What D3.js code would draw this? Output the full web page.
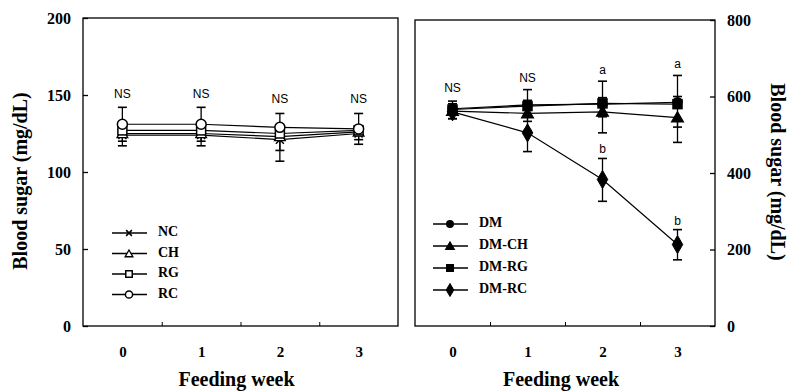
<!DOCTYPE html>
<html>
<head>
<meta charset="utf-8">
<script src="https://cdn.jsdelivr.net/npm/d3@7"></script>
<style>
  body { margin: 0; background: #fff; }
  svg { display: block; }
</style>
</head>
<body>
<div id="chart"></div>
<script>
// data
const weeks = [0, 1, 2, 3];
const weekLabels = ['0', '1', '2', '3'];

// left panel: normal groups (mg/dL)
const ncMean = [124, 124, 121, 125];
const ncUp = [0, 0, 0, 0];
const ncDown = [7, 7, 14, 7];
const chMean = [125, 125, 123, 126];
const chUp = [0, 0, 0, 0];
const chDown = [5, 5, 9, 5];
const rgMean = [127, 127, 125, 127];
const rgUp = [0, 0, 0, 0];
const rgDown = [3, 3, 4, 3];
const rcMean = [131, 131, 129, 128];
const rcUp = [11, 11, 9, 10];
const rcDown = [0, 0, 0, 0];
const leftNotes = ['NS', 'NS', 'NS', 'NS'];
const leftNoteY = [150, 150, 147, 147];
const leftTicks = [0, 50, 100, 150, 200];

// right panel: diabetic groups (mg/dL)
const dmMean = [568, 578, 580, 585];
const dmUp = [20, 40, 60, 70];
const dmDown = [0, 0, 0, 0];
const dmchMean = [562, 556, 560, 545];
const dmchUp = [0, 0, 0, 0];
const dmchDown = [20, 45, 55, 65];
const dmrgMean = [566, 575, 582, 580];
const dmrgUp = [15, 15, 15, 20];
const dmrgDown = [15, 40, 35, 60];
const dmrcMean = [560, 505, 383, 213];
const dmrcUp = [0, 0, 55, 39];
const dmrcDown = [18, 49, 57, 40];
const rightNotes = ['NS', 'NS', 'a', 'a', 'b', 'b'];
const rightNoteX = [0, 1, 2, 3, 2, 3];
const rightNoteY = [619, 645, 666, 684, 461, 272];
const rightTicks = [0, 200, 400, 600, 800];

const W = 788, H = 392;
const serif = '"Liberation Serif", "Times New Roman", serif';
const sans = '"Liberation Sans", Arial, sans-serif';

const svg = d3.select('#chart').append('svg')
    .attr('width', W)
    .attr('height', H);

// marker drawing, k scales the size (legend uses smaller ones)
function drawMarker(g, type, x, y, k = 1) {
    const filled = type.startsWith('f');
    const fill = filled ? '#000' : '#fff';
    if (type.endsWith('circle')) {
        g.append('circle').attr('cx', x).attr('cy', y).attr('r', (filled ? 4.5 : 5) * k)
            .attr('fill', fill).attr('stroke', '#000').attr('stroke-width', 1.5);
    } else if (type.endsWith('square')) {
        const s = (filled ? 9 : 9) * k;
        g.append('rect').attr('x', x - s / 2).attr('y', y - s / 2).attr('width', s).attr('height', s)
            .attr('fill', fill).attr('stroke', '#000').attr('stroke-width', 1.5);
    } else if (type.endsWith('triangle')) {
        g.append('path').attr('d', d3.symbol(d3.symbolTriangle, (filled ? 60 : 50) * k * k)())
            .attr('transform', `translate(${x},${y + 1})`)
            .attr('fill', fill).attr('stroke', '#000').attr('stroke-width', 1.3);
    } else if (type.endsWith('diamond')) {
        g.append('path').attr('d', d3.symbol(d3.symbolDiamond, 95 * k * k)())
            .attr('transform', `translate(${x},${y})`)
            .attr('fill', fill).attr('stroke', '#000').attr('stroke-width', 1);
    } else if (type === 'x') {
        const r = 4 * k;
        g.append('path').attr('d', `M${x - r},${y - r}L${x + r},${y + r}M${x - r},${y + r}L${x + r},${y - r}`)
            .attr('stroke', '#000').attr('stroke-width', 1.5);
    }
}

function drawPanel(p) {
    const x = d3.scaleLinear().domain([-0.5, 3.5]).range([p.left, p.right]);
    const y = d3.scaleLinear().domain([0, p.yMax]).range([p.bottom, p.top]);
    const g = svg.append('g');

    // frame
    g.append('rect')
        .attr('x', p.left).attr('y', p.top)
        .attr('width', p.right - p.left).attr('height', p.bottom - p.top)
        .attr('fill', 'none').attr('stroke', '#000').attr('stroke-width', 1.3);

    // y axis
    const yAxis = (p.axisSide === 'left' ? d3.axisLeft(y) : d3.axisRight(y))
        .tickValues(p.ticks).tickSizeInner(-5).tickSizeOuter(0).tickPadding(12);
    const ya = g.append('g')
        .attr('transform', `translate(${p.axisSide === 'left' ? p.left : p.right},0)`)
        .call(yAxis);
    ya.select('.domain').remove();
    ya.selectAll('line').attr('stroke-width', 1.3);
    ya.selectAll('text').attr('font-family', serif).attr('font-weight', 'bold')
        .attr('font-size', 16).attr('fill', '#000');

    // x axis labels and in-between ticks
    const xa = g.append('g').attr('transform', `translate(0,${p.bottom})`)
        .call(d3.axisBottom(x).tickValues(weeks).tickFormat((d, i) => weekLabels[i])
            .tickSize(0).tickPadding(20));
    xa.select('.domain').remove();
    xa.selectAll('text').attr('font-family', serif).attr('font-weight', 'bold')
        .attr('font-size', 15).attr('fill', '#000');
    const xt = g.append('g').attr('transform', `translate(0,${p.bottom})`)
        .call(d3.axisBottom(x).tickValues([0.5, 1.5, 2.5]).tickFormat('').tickSize(-4).tickSizeOuter(0));
    xt.select('.domain').remove();

    g.append('text')
        .attr('x', (p.left + p.right) / 2 - 4).attr('y', 386)
        .attr('text-anchor', 'middle')
        .attr('font-family', serif).attr('font-weight', 'bold').attr('font-size', 20)
        .text('Feeding week');

    // lines
    const line = d3.line().x((d, i) => x(weeks[i])).y(d => y(d));
    p.series.forEach(s => {
        g.append('path').datum(s.mean)
            .attr('d', line).attr('fill', 'none')
            .attr('stroke', '#000').attr('stroke-width', 1.2);
    });

    // error bars
    p.series.forEach(s => {
        s.mean.forEach((m, i) => {
            const cx = x(weeks[i]);
            [[s.up[i], 1], [s.down[i], -1]].forEach(([e, dir]) => {
                if (!e) return;
                const ye = y(m + dir * e);
                g.append('line').attr('x1', cx).attr('x2', cx).attr('y1', y(m)).attr('y2', ye)
                    .attr('stroke', '#000').attr('stroke-width', 1.3);
                g.append('line').attr('x1', cx - 4.5).attr('x2', cx + 4.5).attr('y1', ye).attr('y2', ye)
                    .attr('stroke', '#000').attr('stroke-width', 1.6);
            });
        });
    });

    // markers
    p.series.forEach(s => {
        s.mean.forEach((m, i) => drawMarker(g, s.marker, x(weeks[i]), y(m)));
    });

    // significance notes
    p.notes.forEach((t, i) => {
        g.append('text')
            .attr('x', x(p.noteX[i])).attr('y', y(p.noteY[i]))
            .attr('text-anchor', 'middle').attr('dominant-baseline', 'middle')
            .attr('font-family', sans).attr('font-size', 12).attr('fill', '#000')
            .text(t);
    });

    // legend
    const lg = g.append('g');
    p.series.forEach((s, i) => {
        const ly = p.legendY + i * p.legendGap;
        lg.append('line').attr('x1', p.legendX).attr('x2', p.legendX + 35)
            .attr('y1', ly).attr('y2', ly).attr('stroke', '#000').attr('stroke-width', 1.5);
        drawMarker(lg, s.marker, p.legendX + 17, ly, 0.72);
        lg.append('text').attr('x', p.legendX + 46).attr('y', ly)
            .attr('dominant-baseline', 'middle')
            .attr('font-family', serif).attr('font-weight', 'bold').attr('font-size', 14)
            .text(s.name);
    });
}

drawPanel({
    left: 83, right: 398, top: 18, bottom: 326, yMax: 200,
    ticks: leftTicks, axisSide: 'left',
    series: [
        { name: 'NC', mean: ncMean, up: ncUp, down: ncDown, marker: 'x' },
        { name: 'CH', mean: chMean, up: chUp, down: chDown, marker: 'triangle' },
        { name: 'RG', mean: rgMean, up: rgUp, down: rgDown, marker: 'square' },
        { name: 'RC', mean: rcMean, up: rcUp, down: rcDown, marker: 'circle' }
    ],
    notes: leftNotes, noteX: weeks, noteY: leftNoteY,
    legendX: 112, legendY: 233, legendGap: 20.5
});

drawPanel({
    left: 415, right: 715, top: 20, bottom: 326, yMax: 800,
    ticks: rightTicks, axisSide: 'right',
    series: [
        { name: 'DM', mean: dmMean, up: dmUp, down: dmDown, marker: 'fcircle' },
        { name: 'DM-CH', mean: dmchMean, up: dmchUp, down: dmchDown, marker: 'ftriangle' },
        { name: 'DM-RG', mean: dmrgMean, up: dmrgUp, down: dmrgDown, marker: 'fsquare' },
        { name: 'DM-RC', mean: dmrcMean, up: dmrcUp, down: dmrcDown, marker: 'fdiamond' }
    ],
    notes: rightNotes, noteX: rightNoteX, noteY: rightNoteY,
    legendX: 433, legendY: 224, legendGap: 22
});

// y axis titles
svg.append('text')
    .attr('transform', 'translate(27,181) rotate(-90)')
    .attr('text-anchor', 'middle')
    .attr('font-family', serif).attr('font-weight', 'bold').attr('font-size', 20)
    .text('Blood sugar (mg/dL)');
svg.append('text')
    .attr('transform', 'translate(771,172) rotate(90)')
    .attr('text-anchor', 'middle')
    .attr('font-family', serif).attr('font-weight', 'bold').attr('font-size', 20)
    .text('Blood sugar (mg/dL)');
</script>
</body>
</html>
